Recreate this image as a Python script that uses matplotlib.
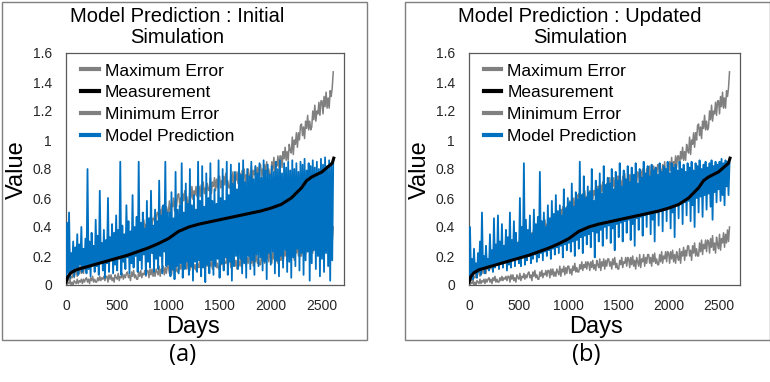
import numpy as np
import matplotlib
matplotlib.use('Agg')
import matplotlib.pyplot as plt
from matplotlib.patches import Rectangle

plt.rcParams['font.family'] = ['Liberation Sans', 'DejaVu Sans']

step = 10
meas_days = [0, 20, 50, 100, 200, 300, 400, 500, 600, 700, 800, 900, 1000, 1100, 1200, 1300,
             1400, 1500, 1600, 1700, 1800, 1900, 2000, 2100, 2200, 2300, 2350, 2400, 2500, 2600, 2615]
measurement = [0.02, 0.06, 0.085, 0.105, 0.125, 0.145, 0.165, 0.185, 0.205, 0.23, 0.255, 0.285,
               0.32, 0.37, 0.40, 0.42, 0.435, 0.45, 0.465, 0.48, 0.495, 0.51, 0.53, 0.555, 0.60,
               0.67, 0.72, 0.745, 0.78, 0.84, 0.875]

max_error = [
    0.01, 0.05, 0.03, 0.07, 0.03, 0.06, 0.05, 0.08, 0.05, 0.09,
    0.10, 0.06, 0.11, 0.08, 0.13, 0.08, 0.11, 0.08, 0.13, 0.11,
    0.11, 0.16, 0.11, 0.15, 0.14, 0.18, 0.13, 0.18, 0.15, 0.20,
    0.21, 0.17, 0.20, 0.16, 0.22, 0.19, 0.24, 0.18, 0.22, 0.18,
    0.20, 0.26, 0.22, 0.28, 0.22, 0.26, 0.25, 0.29, 0.24, 0.29,
    0.30, 0.25, 0.32, 0.28, 0.34, 0.27, 0.31, 0.27, 0.34, 0.31,
    0.31, 0.37, 0.30, 0.36, 0.34, 0.39, 0.32, 0.38, 0.35, 0.41,
    0.42, 0.36, 0.40, 0.35, 0.43, 0.39, 0.45, 0.38, 0.42, 0.38,
    0.39, 0.46, 0.42, 0.49, 0.41, 0.46, 0.45, 0.50, 0.44, 0.50,
    0.50, 0.44, 0.52, 0.48, 0.54, 0.47, 0.51, 0.46, 0.54, 0.51,
    0.50, 0.58, 0.49, 0.56, 0.54, 0.60, 0.51, 0.59, 0.54, 0.62,
    0.63, 0.56, 0.60, 0.54, 0.63, 0.58, 0.65, 0.57, 0.61, 0.56,
    0.57, 0.65, 0.60, 0.68, 0.59, 0.65, 0.62, 0.68, 0.61, 0.68,
    0.68, 0.61, 0.69, 0.64, 0.71, 0.63, 0.67, 0.61, 0.70, 0.66,
    0.65, 0.74, 0.63, 0.71, 0.68, 0.74, 0.65, 0.73, 0.67, 0.75,
    0.75, 0.67, 0.72, 0.65, 0.75, 0.69, 0.77, 0.68, 0.72, 0.67,
    0.67, 0.76, 0.70, 0.78, 0.68, 0.75, 0.72, 0.78, 0.70, 0.78,
    0.77, 0.69, 0.79, 0.73, 0.80, 0.71, 0.76, 0.70, 0.80, 0.75,
    0.73, 0.82, 0.71, 0.79, 0.76, 0.82, 0.73, 0.81, 0.75, 0.83,
    0.83, 0.75, 0.80, 0.73, 0.83, 0.77, 0.85, 0.76, 0.80, 0.75,
    0.75, 0.85, 0.79, 0.88, 0.78, 0.85, 0.82, 0.89, 0.81, 0.89,
    0.89, 0.81, 0.92, 0.87, 0.95, 0.86, 0.92, 0.86, 0.97, 0.93,
    0.91, 1.02, 0.90, 1.00, 0.97, 1.05, 0.95, 1.05, 1.00, 1.10,
    1.11, 1.03, 1.09, 1.01, 1.13, 1.08, 1.17, 1.07, 1.13, 1.07,
    1.09, 1.20, 1.14, 1.24, 1.13, 1.20, 1.18, 1.26, 1.17, 1.27,
    1.27, 1.18, 1.30, 1.23, 1.33, 1.22, 1.29, 1.22, 1.34, 1.30,
    1.36, 1.47]

min_error = [
    0.02, 0.00, 0.02, 0.01, 0.03, 0.00, 0.02, 0.00, 0.03, 0.02,
    0.01, 0.04, 0.01, 0.03, 0.02, 0.04, 0.01, 0.04, 0.02, 0.04,
    0.05, 0.02, 0.04, 0.01, 0.05, 0.03, 0.06, 0.02, 0.04, 0.02,
    0.02, 0.05, 0.03, 0.06, 0.03, 0.05, 0.04, 0.06, 0.03, 0.06,
    0.06, 0.02, 0.07, 0.04, 0.07, 0.03, 0.05, 0.02, 0.07, 0.05,
    0.04, 0.08, 0.03, 0.06, 0.05, 0.08, 0.04, 0.07, 0.05, 0.08,
    0.09, 0.05, 0.07, 0.03, 0.09, 0.06, 0.10, 0.05, 0.07, 0.04,
    0.04, 0.09, 0.06, 0.10, 0.05, 0.08, 0.07, 0.10, 0.06, 0.10,
    0.10, 0.05, 0.11, 0.07, 0.11, 0.06, 0.09, 0.06, 0.11, 0.09,
    0.07, 0.13, 0.06, 0.11, 0.09, 0.13, 0.07, 0.12, 0.08, 0.13,
    0.13, 0.08, 0.11, 0.07, 0.13, 0.10, 0.15, 0.09, 0.12, 0.09,
    0.09, 0.14, 0.11, 0.16, 0.10, 0.14, 0.12, 0.16, 0.11, 0.16,
    0.15, 0.10, 0.16, 0.12, 0.17, 0.11, 0.14, 0.10, 0.17, 0.14,
    0.12, 0.18, 0.10, 0.16, 0.13, 0.18, 0.11, 0.17, 0.13, 0.18,
    0.18, 0.13, 0.16, 0.11, 0.18, 0.14, 0.19, 0.12, 0.15, 0.11,
    0.11, 0.17, 0.14, 0.19, 0.12, 0.16, 0.15, 0.19, 0.13, 0.19,
    0.18, 0.12, 0.19, 0.14, 0.20, 0.13, 0.17, 0.11, 0.19, 0.16,
    0.13, 0.21, 0.12, 0.18, 0.16, 0.21, 0.13, 0.19, 0.15, 0.21,
    0.21, 0.15, 0.19, 0.13, 0.21, 0.16, 0.22, 0.15, 0.18, 0.14,
    0.14, 0.21, 0.16, 0.23, 0.15, 0.20, 0.18, 0.23, 0.16, 0.23,
    0.22, 0.15, 0.23, 0.18, 0.24, 0.16, 0.21, 0.15, 0.23, 0.19,
    0.17, 0.25, 0.15, 0.23, 0.20, 0.26, 0.17, 0.24, 0.20, 0.27,
    0.27, 0.20, 0.24, 0.17, 0.27, 0.22, 0.29, 0.20, 0.25, 0.20,
    0.20, 0.29, 0.23, 0.31, 0.21, 0.28, 0.25, 0.31, 0.23, 0.31,
    0.30, 0.22, 0.32, 0.26, 0.34, 0.24, 0.29, 0.22, 0.33, 0.28,
    0.25, 0.35, 0.24, 0.32, 0.29, 0.36, 0.26, 0.35, 0.29, 0.38,
    0.30, 0.40]

pred_initial = [
    0.03, 0.43, 0.08, 0.50, 0.05, 0.22, 0.10, 0.30, 0.06, 0.26,
    0.12, 0.35, 0.07, 0.28, 0.14, 0.40, 0.09, 0.25, 0.13, 0.32,
    0.08, 0.80, 0.11, 0.30, 0.06, 0.36, 0.15, 0.27, 0.09, 0.45,
    0.13, 0.34, 0.07, 0.65, 0.16, 0.29, 0.10, 0.38, 0.05, 0.31,
    0.15, 0.60, 0.09, 0.33, 0.17, 0.42, 0.08, 0.36, 0.14, 0.48,
    0.10, 0.38, 0.18, 0.85, 0.07, 0.41, 0.16, 0.35, 0.11, 0.55,
    0.19, 0.44, 0.08, 0.37, 0.15, 0.62, 0.12, 0.40, 0.20, 0.47,
    0.09, 0.85, 0.17, 0.43, 0.11, 0.50, 0.21, 0.39, 0.07, 0.58,
    0.16, 0.46, 0.12, 0.65, 0.22, 0.41, 0.09, 0.52, 0.18, 0.44,
    0.11, 0.72, 0.20, 0.48, 0.08, 0.55, 0.23, 0.85, 0.13, 0.50,
    0.14, 0.50, 0.06, 0.64, 0.11, 0.46, 0.04, 0.78, 0.13, 0.52,
    0.08, 0.55, 0.15, 0.84, 0.05, 0.50, 0.11, 0.70, 0.16, 0.56,
    0.07, 0.80, 0.13, 0.55, 0.03, 0.62, 0.16, 0.52, 0.09, 0.85,
    0.17, 0.58, 0.06, 0.82, 0.12, 0.54, 0.02, 0.77, 0.14, 0.60,
    0.08, 0.84, 0.17, 0.58, 0.07, 0.66, 0.13, 0.56, 0.18, 0.86,
    0.05, 0.60, 0.15, 0.80, 0.10, 0.58, 0.19, 0.85, 0.07, 0.62,
    0.16, 0.83, 0.03, 0.70, 0.13, 0.78, 0.20, 0.66, 0.11, 0.84,
    0.18, 0.76, 0.08, 0.86, 0.15, 0.71, 0.05, 0.80, 0.20, 0.75,
    0.11, 0.85, 0.17, 0.73, 0.07, 0.82, 0.21, 0.77, 0.13, 0.84,
    0.19, 0.74, 0.10, 0.86, 0.16, 0.79, 0.04, 0.83, 0.22, 0.76,
    0.14, 0.82, 0.23, 0.78, 0.08, 0.85, 0.17, 0.80, 0.06, 0.86,
    0.20, 0.77, 0.12, 0.84, 0.24, 0.81, 0.09, 0.85, 0.16, 0.79,
    0.05, 0.86, 0.19, 0.80, 0.13, 0.84, 0.25, 0.78, 0.10, 0.85,
    0.22, 0.83, 0.07, 0.87, 0.17, 0.79, 0.23, 0.84, 0.03, 0.82,
    0.15, 0.86, 0.24, 0.81, 0.11, 0.85, 0.20, 0.80, 0.06, 0.87,
    0.18, 0.83, 0.09, 0.88, 0.22, 0.82, 0.13, 0.86, 0.03, 0.84,
    0.17, 0.86]

pred_updated = [
    0.02, 0.40, 0.06, 0.18, 0.04, 0.25, 0.08, 0.15, 0.05, 0.22,
    0.09, 0.30, 0.07, 0.50, 0.11, 0.20, 0.08, 0.27, 0.12, 0.18,
    0.10, 0.35, 0.13, 0.24, 0.09, 0.46, 0.12, 0.28, 0.14, 0.48,
    0.11, 0.30, 0.15, 0.42, 0.12, 0.27, 0.16, 0.38, 0.10, 0.33,
    0.14, 0.50, 0.12, 0.31, 0.17, 0.44, 0.13, 0.36, 0.18, 0.29,
    0.15, 0.60, 0.13, 0.40, 0.19, 0.84, 0.14, 0.45, 0.17, 0.38,
    0.20, 0.48, 0.15, 0.35, 0.18, 0.52, 0.21, 0.42, 0.16, 0.47,
    0.19, 0.78, 0.22, 0.44, 0.17, 0.50, 0.23, 0.40, 0.20, 0.55,
    0.24, 0.46, 0.18, 0.58, 0.25, 0.49, 0.21, 0.62, 0.26, 0.51,
    0.22, 0.55, 0.27, 0.48, 0.19, 0.66, 0.28, 0.53, 0.24, 0.60,
    0.29, 0.57, 0.23, 0.70, 0.30, 0.54, 0.20, 0.64, 0.31, 0.59,
    0.25, 0.85, 0.33, 0.62, 0.22, 0.75, 0.34, 0.60, 0.28, 0.68,
    0.35, 0.64, 0.26, 0.80, 0.37, 0.58, 0.19, 0.72, 0.36, 0.66,
    0.30, 0.77, 0.38, 0.63, 0.27, 0.82, 0.40, 0.69, 0.32, 0.74,
    0.41, 0.70, 0.29, 0.80, 0.39, 0.66, 0.24, 0.78, 0.42, 0.72,
    0.33, 0.84, 0.43, 0.68, 0.30, 0.79, 0.44, 0.73, 0.36, 0.82,
    0.45, 0.71, 0.31, 0.81, 0.42, 0.76, 0.27, 0.84, 0.46, 0.70,
    0.38, 0.80, 0.47, 0.74, 0.34, 0.85, 0.48, 0.77, 0.40, 0.82,
    0.49, 0.75, 0.35, 0.83, 0.45, 0.79, 0.30, 0.81, 0.50, 0.76,
    0.41, 0.84, 0.51, 0.78, 0.37, 0.82, 0.52, 0.80, 0.44, 0.85,
    0.53, 0.77, 0.39, 0.84, 0.50, 0.81, 0.33, 0.83, 0.55, 0.79,
    0.46, 0.85, 0.56, 0.80, 0.42, 0.83, 0.57, 0.78, 0.48, 0.84,
    0.58, 0.81, 0.44, 0.85, 0.55, 0.79, 0.40, 0.84, 0.60, 0.82,
    0.50, 0.86, 0.61, 0.80, 0.47, 0.83, 0.62, 0.85, 0.52, 0.81,
    0.63, 0.84, 0.54, 0.86, 0.45, 0.82, 0.64, 0.85, 0.57, 0.83,
    0.66, 0.85, 0.58, 0.87, 0.62, 0.84, 0.55, 0.86, 0.68, 0.85,
    0.62, 0.84]

titles = ['Model Prediction : Initial\nSimulation', 'Model Prediction : Updated\nSimulation']
panel_tags = ['(a)', '(b)']
yticks = [0, 0.2, 0.4, 0.6, 0.8, 1.0, 1.2, 1.4, 1.6]
ytick_labels = ['0', '0.2', '0.4', '0.6', '0.8', '1', '1.2', '1.4', '1.6']
xticks = [0, 500, 1000, 1500, 2000, 2500]

days = np.arange(len(max_error)) * step

W, H = 770.0, 382.0
fig = plt.figure(figsize=(7.7, 3.82), dpi=100)

BLUE = '#0070c0'
GRAY = '#808080'

# pixel layout per panel: frame left, axes left, axes right
panels = [(2, 66, 344), (405, 469, 740)]
preds = [pred_initial, pred_updated]

for k in range(2):
    fx, axl, axr = panels[k]
    # frame around each panel
    fig.patches.append(Rectangle((fx / W, 1 - 340 / H), 365 / W, 338 / H, transform=fig.transFigure,
                                 fill=False, edgecolor='#7f7f7f', linewidth=1.0))
    ax = fig.add_axes([axl / W, 1 - 285 / H, (axr - axl) / W, 232 / H])
    ax.plot(days, max_error, color=GRAY, lw=1.1, label='Maximum Error')
    ax.plot(meas_days, measurement, color='black', lw=2.2, label='Measurement', zorder=5)
    ax.plot(days, min_error, color=GRAY, lw=1.1, label='Minimum Error')
    ax.plot(days, preds[k], color=BLUE, lw=1.3, label='Model Prediction', zorder=4)
    ax.set_xlim(0, 2715)
    ax.set_ylim(0, 1.6)
    ax.set_yticks(yticks)
    ax.set_yticklabels(ytick_labels)
    ax.set_xticks(xticks)
    ax.tick_params(length=0, labelsize=10, pad=10, colors='#262626')
    for s in ax.spines.values():
        s.set_color('#595959')
        s.set_linewidth(0.9)
    leg = ax.legend(loc='upper left', frameon=False, fontsize=12.5, handlelength=1.0,
                    handletextpad=0.35, labelspacing=0.38, borderaxespad=0.2,
                    bbox_to_anchor=(0.017, 1.0))
    for ln in leg.get_lines():
        ln.set_linewidth(3.0)

    cx = fx + 175
    fig.text(cx / W, 1 - 27 / H, titles[k], ha='center', va='center', fontsize=14.5, linespacing=1.1)
    fig.text((fx + 15) / W, 1 - 170 / H, 'Value', rotation=90, ha='center', va='center', fontsize=17)
    fig.text((axl + 127) / W, 1 - 327 / H, 'Days', ha='center', va='center', fontsize=17)
    fig.text((fx + 181) / W, 1 - 355 / H, panel_tags[k], ha='center', va='center', fontsize=17,
             family=['Open Sans', 'DejaVu Sans'])

fig.savefig('out.png', dpi=100)
